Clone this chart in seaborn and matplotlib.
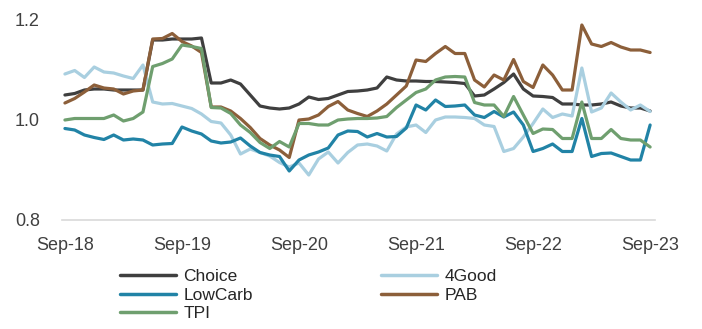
import numpy as np
import pandas as pd
import matplotlib
matplotlib.use("Agg")
import matplotlib.pyplot as plt
import seaborn as sns

# Monthly index levels, Sep-18 .. Sep-23
months = pd.date_range("2018-09-01", "2023-09-01", freq="MS")

choice = [1.050, 1.053, 1.060, 1.062, 1.062, 1.060, 1.060, 1.060, 1.060, 1.160,
          1.160, 1.162, 1.162, 1.162, 1.164, 1.074, 1.074, 1.080, 1.072, 1.050,
          1.028, 1.024, 1.022, 1.024, 1.032, 1.046, 1.041, 1.043, 1.050, 1.057,
          1.058, 1.060, 1.064, 1.086, 1.080, 1.078, 1.078, 1.077, 1.077, 1.076,
          1.075, 1.073, 1.048, 1.050, 1.062, 1.075, 1.092, 1.062, 1.048, 1.047,
          1.045, 1.032, 1.032, 1.030, 1.030, 1.032, 1.036, 1.028, 1.024, 1.024,
          1.018]

good4 = [1.092, 1.099, 1.085, 1.106, 1.096, 1.094, 1.088, 1.083, 1.110, 1.036,
         1.032, 1.033, 1.028, 1.023, 1.012, 0.997, 0.994, 0.970, 0.932, 0.942,
         0.935, 0.928, 0.915, 0.906, 0.914, 0.890, 0.922, 0.936, 0.914, 0.935,
         0.950, 0.952, 0.948, 0.938, 0.972, 0.986, 0.990, 0.975, 1.000, 1.006,
         1.006, 1.005, 1.003, 0.990, 0.987, 0.937, 0.943, 0.966, 0.993, 1.022,
         1.005, 1.012, 1.008, 1.104, 1.016, 1.024, 1.054, 1.036, 1.020, 1.030,
         1.017]

lowcarb = [0.983, 0.980, 0.970, 0.965, 0.961, 0.970, 0.960, 0.962, 0.960, 0.950,
           0.952, 0.953, 0.986, 0.978, 0.972, 0.958, 0.954, 0.956, 0.964, 0.948,
           0.935, 0.930, 0.927, 0.898, 0.920, 0.930, 0.936, 0.944, 0.970, 0.978,
           0.977, 0.966, 0.973, 0.966, 0.967, 0.984, 1.030, 1.020, 1.040, 1.027,
           1.028, 1.030, 1.010, 1.005, 1.017, 1.006, 1.016, 0.990, 0.937, 0.943,
           0.952, 0.937, 0.937, 1.003, 0.927, 0.933, 0.934, 0.927, 0.920, 0.920,
           0.990]

pab = [1.034, 1.043, 1.056, 1.070, 1.064, 1.062, 1.052, 1.058, 1.060, 1.162,
       1.163, 1.173, 1.157, 1.148, 1.135, 1.026, 1.026, 1.018, 1.003, 0.985,
       0.963, 0.950, 0.940, 0.925, 1.000, 1.002, 1.010, 1.027, 1.037, 1.020,
       1.013, 1.007, 1.018, 1.032, 1.050, 1.068, 1.120, 1.117, 1.133, 1.147,
       1.133, 1.133, 1.080, 1.066, 1.090, 1.080, 1.121, 1.077, 1.065, 1.110,
       1.090, 1.060, 1.060, 1.190, 1.152, 1.147, 1.155, 1.146, 1.140, 1.140,
       1.135]

tpi = [1.000, 1.003, 1.003, 1.003, 1.003, 1.010, 0.998, 1.003, 1.016, 1.107,
       1.113, 1.122, 1.150, 1.147, 1.143, 1.025, 1.024, 1.013, 0.990, 0.975,
       0.955, 0.943, 0.957, 0.946, 0.993, 0.993, 0.990, 0.990, 1.000, 1.002,
       1.003, 1.003, 1.004, 1.007, 1.025, 1.040, 1.055, 1.062, 1.080, 1.086,
       1.087, 1.086, 1.035, 1.030, 1.030, 1.007, 1.047, 1.010, 0.973, 0.982,
       0.981, 0.963, 0.963, 1.036, 0.963, 0.963, 0.981, 0.963, 0.960, 0.960,
       0.946]

series_names = ["Choice", "4Good", "LowCarb", "PAB", "TPI"]
series_values = [choice, good4, lowcarb, pab, tpi]
colors = ["#3f3f3f", "#a9cfe0", "#2183a6", "#8c5f3a", "#6f9f6f"]

tick_months = [0, 12, 24, 36, 48, 60]
tick_labels = ["Sep-18", "Sep-19", "Sep-20", "Sep-21", "Sep-22", "Sep-23"]

rows = []
for name, vals in zip(series_names, series_values):
    for i, v in enumerate(vals):
        rows.append({"t": i, "value": v, "series": name})
df = pd.DataFrame(rows)

sns.set_style("white")
plt.rcParams["font.family"] = ["Liberation Sans", "DejaVu Sans"]

fig = plt.figure(figsize=(7.02, 3.29), dpi=100)
ax = fig.add_axes([62 / 702, 1 - 220 / 329, (655 - 62) / 702, 200 / 329])

sns.lineplot(data=df, x="t", y="value", hue="series", hue_order=series_names,
             palette=colors, linewidth=2.3, ax=ax, legend=True)

ax.set_xlim(-0.3, 60.5)
ax.set_ylim(0.8, 1.2)
ax.set_yticks([0.8, 1.0, 1.2])
ax.set_yticklabels(["0.8", "1.0", "1.2"])
ax.set_xticks(tick_months)
ax.set_xticklabels(tick_labels)
ax.set_xlabel("")
ax.set_ylabel("")
ax.tick_params(axis="both", length=0, labelsize=13, colors="#404040")
ax.tick_params(axis="y", pad=16)
ax.tick_params(axis="x", pad=12)

for side in ["top", "right", "left"]:
    ax.spines[side].set_visible(False)
ax.spines["bottom"].set_color("#d9d9d9")
ax.spines["bottom"].set_linewidth(1.2)

handles, labels = ax.get_legend_handles_labels()
ax.get_legend().remove()
lookup = dict(zip(labels, handles))
order = ["Choice", "LowCarb", "TPI", "4Good", "PAB"]
leg = fig.legend([lookup[k] for k in order], order, ncol=2,
                 loc="upper left", bbox_to_anchor=(120 / 702, 1 - 269 / 329),
                 frameon=False, fontsize=12.5, handlelength=3.2,
                 handletextpad=0.45, labelspacing=0.2, columnspacing=7.4,
                 borderaxespad=0, borderpad=0)
for txt in leg.get_texts():
    txt.set_color("#262626")
for line in leg.get_lines():
    line.set_linewidth(2.5)

fig.savefig("out.png", dpi=100)
